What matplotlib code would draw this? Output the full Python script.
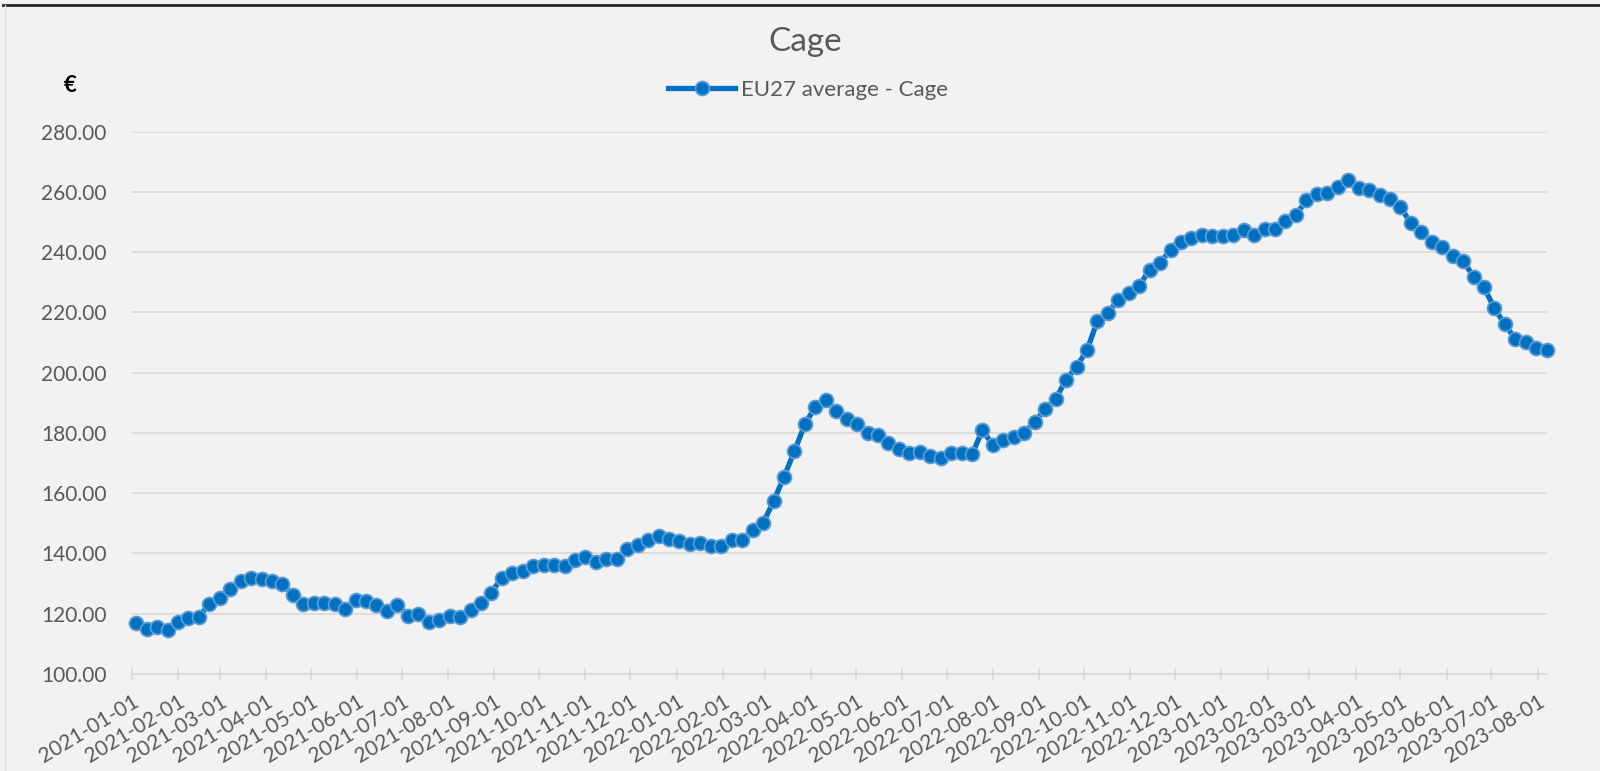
import matplotlib
matplotlib.use("Agg")
import matplotlib.pyplot as plt
import matplotlib.dates as mdates
from matplotlib.lines import Line2D
import pandas as pd

plt.rcParams['font.family'] = ['Lato', 'DejaVu Sans']

# weekly EU27 average price, cage eggs (EUR / 100 kg)
start_week = "2021-01-04"
n_weeks = 136
cage = [
    116.9, 115.0, 115.5, 114.7, 117.4, 118.5, 119.0, 123.2, 125.2, 128.1,
    130.9, 131.8, 131.4, 130.9, 129.8, 126.2, 123.2, 123.4, 123.4, 123.2,
    121.7, 124.6, 124.1, 122.9, 120.8, 123.0, 119.3, 120.0, 117.3, 117.8,
    119.1, 118.9, 121.3, 123.5, 127.0, 132.0, 133.4, 134.1, 135.9, 136.1,
    136.1, 135.9, 137.8, 138.7, 137.0, 138.0, 138.1, 141.4, 142.8, 144.4,
    145.8, 144.7, 144.2, 143.0, 143.3, 142.5, 142.4, 144.6, 144.4, 147.7,
    150.1, 157.3, 165.4, 173.9, 182.9, 188.6, 191.0, 187.2, 184.7, 182.9,
    180.1, 179.2, 176.8, 174.8, 173.2, 173.7, 172.3, 171.8, 173.2, 173.4,
    172.9, 180.9, 175.9, 177.6, 178.7, 180.0, 183.7, 187.9, 191.2, 197.7,
    201.9, 207.5, 217.1, 219.9, 224.1, 226.5, 228.8, 234.2, 236.4, 240.7,
    243.4, 244.5, 245.6, 245.3, 245.3, 245.6, 247.3, 245.6, 247.5, 247.5,
    250.2, 252.3, 257.2, 259.2, 259.7, 261.7, 263.9, 261.1, 260.6, 258.9,
    257.6, 255.0, 249.5, 246.7, 243.4, 241.7, 238.7, 237.1, 231.8, 228.3,
    221.3, 216.0, 211.1, 210.2, 208.2, 207.4,
]
weeks = pd.date_range(start_week, periods=n_weeks, freq="7D")
y_ticks = [100, 120, 140, 160, 180, 200, 220, 240, 260, 280]

bg = "#f2f2f2"
grey = "#595959"
blue = "#0070c0"

fig = plt.figure(figsize=(16, 7.71), dpi=100, facecolor=bg)
ax = fig.add_axes([131.7 / 1600, 1 - 674 / 771, 1415 / 1600, (674 - 131.5) / 771])
ax.set_facecolor(bg)

ax.plot(weeks, cage, color=blue, lw=3.8, marker="o", ms=10,
        mfc=blue, mec="#5b9bd5", mew=1.3, clip_on=False, zorder=3,
        label="EU27 average - Cage")

ax.set_ylim(100, 280)
ax.set_yticks(y_ticks)
ax.set_yticklabels([f"{v:.2f}" for v in y_ticks])
ax.set_xlim(pd.Timestamp("2021-01-01"), weeks[-1])
ax.xaxis.set_major_locator(mdates.MonthLocator())
ax.xaxis.set_major_formatter(mdates.DateFormatter("%Y-%m-%d"))

ax.grid(axis="y", color="#d9d9d9", lw=1.2)
ax.set_axisbelow(True)
for s in ["top", "right", "left"]:
    ax.spines[s].set_visible(False)
ax.spines["bottom"].set_color("#d9d9d9")
ax.spines["bottom"].set_linewidth(1.2)

ax.tick_params(axis="y", length=0, pad=18, labelsize=15, labelcolor=grey)
ax.tick_params(axis="x", direction="inout", length=9, width=1.2, color="#d9d9d9",
               pad=8, labelsize=15, labelcolor=grey)
for lbl in ax.get_xticklabels():
    lbl.set_rotation(31)
    lbl.set_ha("right")
    lbl.set_va("top")
    lbl.set_rotation_mode("anchor")

fig.text(805 / 1600, 1 - 42 / 771, "Cage", ha="center", va="center",
         fontsize=24, color=grey)
fig.text(70 / 1600, 1 - 86 / 771, "€", ha="center", va="center",
         fontsize=16, color="black", fontweight="bold")
fig.legend(loc="center", bbox_to_anchor=(808 / 1600, 1 - 90 / 771), frameon=False,
           fontsize=16, labelcolor=grey, handlelength=3.0, handletextpad=0.25)

# chart border
fig.add_artist(Line2D([3 / 1600, 1], [1 - 5 / 771, 1 - 5 / 771], color="#262626", lw=2))
fig.add_artist(Line2D([5 / 1600, 5 / 1600], [0, 1 - 5 / 771], color="#d9d9d9", lw=1))

fig.savefig("out.png", dpi=100, facecolor=bg)
